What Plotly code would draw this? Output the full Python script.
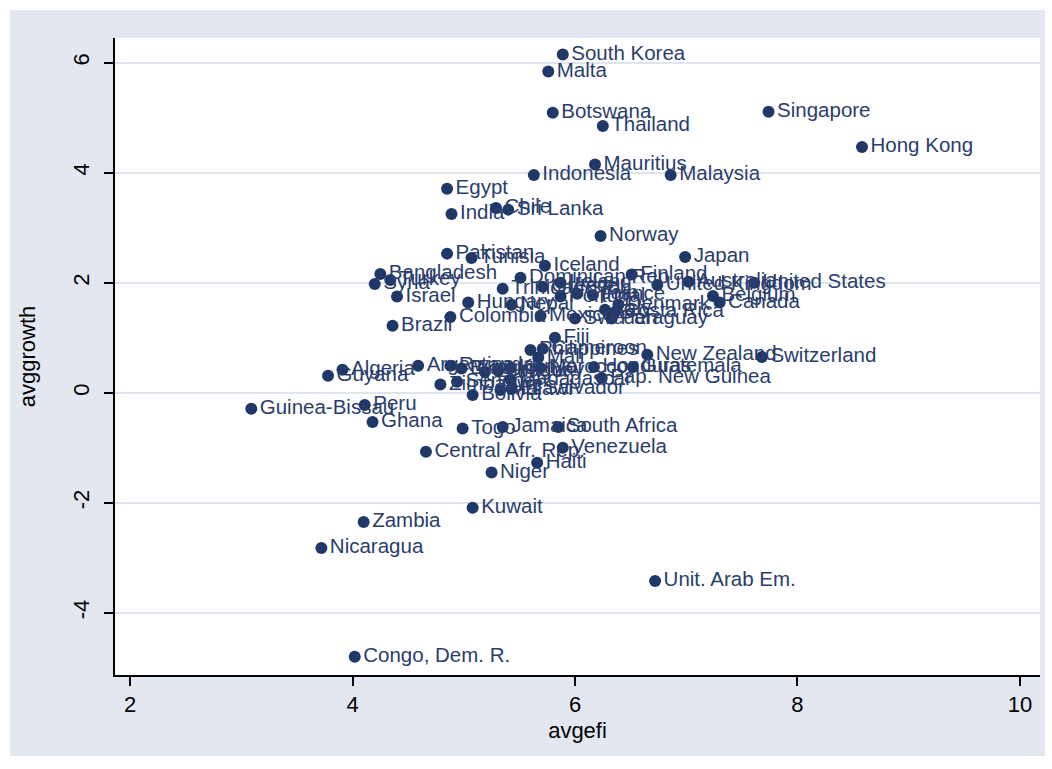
import plotly.graph_objects as go

# Country averages: economic freedom index vs. growth
countries = [
    "South Korea", "Malta", "Botswana", "Singapore", "Thailand", "Hong Kong",
    "Mauritius", "Indonesia", "Malaysia", "Egypt", "Chile", "Sri Lanka", "India",
    "Norway", "Pakistan", "Tunisia", "Japan", "Iceland", "Bangladesh", "Turkey",
    "Syria", "Israel", "Brazil", "Colombia", "Hungary", "Dominican Rep.",
    "Trinidad&Tob.", "Nepal", "Mexico", "Sweden", "Paraguay", "Finland",
    "United Kingdom", "Australia", "United States", "Belgium", "Canada",
    "Denmark", "Costa Rica", "Greece", "Ireland", "Portugal", "Spain", "France",
    "Italy", "Fiji", "Philippines", "Cameroon", "Mali", "Morocco", "New Zealand",
    "Switzerland", "Honduras", "Guatemala", "Pap. New Guinea", "Guyana",
    "Algeria", "Argentina", "Zimbabwe", "Rwanda", "Burundi", "Senegal",
    "Ecuador", "Uruguay", "Kenya", "Madagascar", "El Salvador", "Malawi",
    "Bolivia", "Guinea-Bissau", "Peru", "Ghana", "Togo", "Jamaica",
    "South Africa", "Central Afr. Rep.", "Venezuela", "Haiti", "Niger",
    "Kuwait", "Zambia", "Nicaragua", "Unit. Arab Em.", "Congo, Dem. R.",
]
avgefi = [
    5.89, 5.76, 5.80, 7.74, 6.25, 8.58,
    6.18, 5.63, 6.86, 4.85, 5.29, 5.40, 4.89,
    6.23, 4.85, 5.07, 6.99, 5.73, 4.25, 4.34,
    4.20, 4.40, 4.36, 4.88, 5.04, 5.51,
    5.35, 5.43, 5.69, 6.00, 6.33, 6.51,
    6.74, 7.02, 7.61, 7.24, 7.30,
    6.39, 6.36, 5.71, 5.87, 5.87, 6.02, 6.16,
    6.27, 5.82, 5.60, 5.71, 5.67, 5.69, 6.65,
    7.68, 6.17, 6.52, 6.24, 3.78,
    3.91, 4.59, 4.79, 4.88, 4.98, 4.94,
    5.19, 5.31, 5.42, 5.42, 5.43, 5.33,
    5.08, 3.09, 4.11, 4.18, 4.99, 5.35,
    5.85, 4.66, 5.89, 5.66, 5.25,
    5.08, 4.10, 3.72, 6.72, 4.02,
]
avggrowth = [
    6.15, 5.84, 5.09, 5.11, 4.85, 4.47,
    4.15, 3.96, 3.96, 3.71, 3.36, 3.33, 3.25,
    2.85, 2.53, 2.45, 2.47, 2.31, 2.16, 2.05,
    1.98, 1.75, 1.22, 1.38, 1.64, 2.09,
    1.89, 1.60, 1.40, 1.35, 1.35, 2.15,
    1.96, 2.02, 2.00, 1.76, 1.64,
    1.60, 1.47, 1.93, 2.00, 1.75, 1.80, 1.78,
    1.51, 1.00, 0.78, 0.80, 0.64, 0.45, 0.69,
    0.65, 0.47, 0.47, 0.27, 0.31,
    0.42, 0.49, 0.15, 0.49, 0.44, 0.20,
    0.38, 0.40, 0.45, 0.24, 0.07, 0.05,
    -0.04, -0.29, -0.22, -0.53, -0.65, -0.62,
    -0.62, -1.07, -1.00, -1.27, -1.45,
    -2.09, -2.35, -2.82, -3.42, -4.80,
]

x_ticks = [2, 4, 6, 8, 10]
y_ticks = [-4, -2, 0, 2, 4, 6]

navy = "#1f3868"
label_color = "#2a3d6c"
region_bg = "#e2e7f0"
font_family = "Liberation Sans, Arial, sans-serif"

W, H = 1052, 769
ML, MR, MT, MB = 115, 12, 38, 94
pw, ph = W - ML - MR, H - MT - MB


def px_x(p):
    return (p - ML) / pw


def px_y(p):
    return (H - MB - p) / ph


fig = go.Figure(
    go.Scatter(
        x=avgefi,
        y=avggrowth,
        mode="markers+text",
        text=countries,
        textposition="middle right",
        textfont=dict(family=font_family, size=20.5, color=label_color),
        marker=dict(size=12, color=navy, line=dict(width=0)),
        cliponaxis=False,
        hoverinfo="skip",
    )
)

fig.update_layout(
    width=W,
    height=H,
    margin=dict(l=ML, r=MR, t=MT, b=MB),
    paper_bgcolor="white",
    plot_bgcolor="white",
    showlegend=False,
    font=dict(family=font_family, color="black", size=22),
    shapes=[
        # graph region band
        dict(type="rect", xref="paper", yref="paper", layer="below",
             x0=px_x(10), x1=px_x(1045), y0=px_y(756), y1=px_y(10),
             fillcolor=region_bg, line=dict(width=0)),
        # white plot region
        dict(type="rect", xref="paper", yref="paper", layer="below",
             x0=0, x1=1, y0=0, y1=1,
             fillcolor="white", line=dict(width=0)),
    ],
)

fig.update_xaxes(
    range=[1.865, 10.18],
    tickvals=x_ticks,
    ticktext=[str(v) for v in x_ticks],
    showgrid=False,
    zeroline=False,
    showline=True,
    linecolor="black",
    linewidth=1.5,
    ticks="outside",
    ticklen=9,
    tickwidth=1.5,
    tickcolor="black",
    tickfont=dict(size=22, color="black"),
    title=dict(text="avgefi", font=dict(size=22, color="black"), standoff=6),
)

fig.update_yaxes(
    range=[-5.13, 6.45],
    tickvals=y_ticks,
    ticktext=[str(v) for v in y_ticks],
    showgrid=True,
    gridcolor="#dfe5ee",
    gridwidth=1.5,
    zeroline=False,
    showline=True,
    linecolor="black",
    linewidth=1.5,
    ticks="outside",
    ticklen=9,
    tickwidth=1.5,
    tickcolor="black",
    tickangle=-90,
    ticklabelstandoff=6,
    tickfont=dict(size=22, color="black"),
    title=dict(text="avggrowth", font=dict(size=22, color="black"), standoff=28),
)

fig.write_html("out.html")
